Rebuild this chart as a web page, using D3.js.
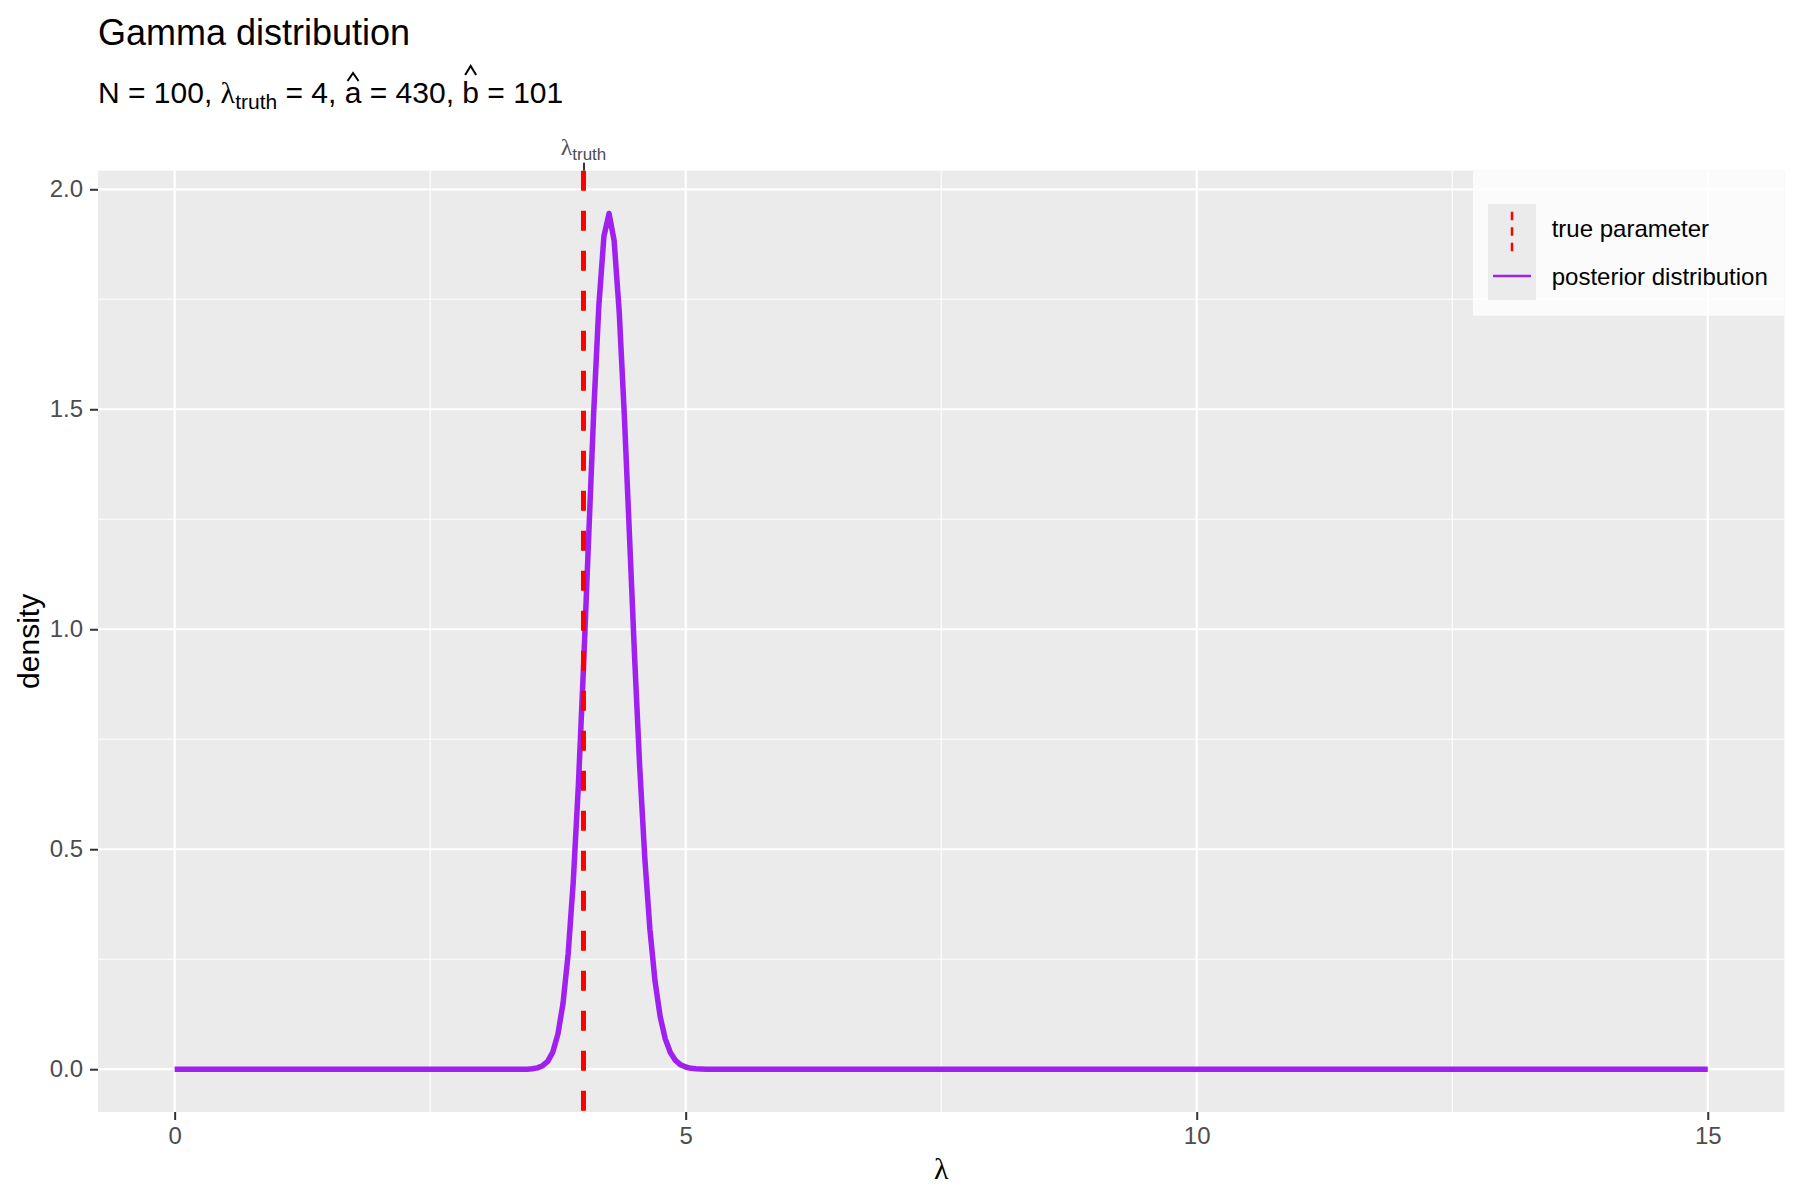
<!DOCTYPE html>
<html>
<head>
<meta charset="utf-8">
<script src="https://cdn.jsdelivr.net/npm/d3@7"></script>
<style>
  body { margin: 0; background: #fff; }
  text { font-family: "Liberation Sans", Arial, sans-serif; white-space: pre; }
  .greek { font-family: "Liberation Serif", "Times New Roman", serif; }
</style>
</head>
<body>
<div id="chart"></div>
<script>
// values
var lambdaGrid = [0, 3.3, 3.4, 3.45, 3.5, 3.55, 3.6, 3.65, 3.7, 3.75, 3.8, 3.85, 3.9, 3.95,
  4.0, 4.05, 4.1, 4.15, 4.2, 4.25, 4.3, 4.35, 4.4, 4.45, 4.5, 4.55, 4.6, 4.65, 4.7,
  4.75, 4.8, 4.85, 4.9, 4.95, 5.0, 5.05, 5.1, 5.2, 15];
var posteriorDensity = [0, 0, 0, 0, 0.001, 0.003, 0.008, 0.018, 0.039, 0.080, 0.150, 0.262, 0.426, 0.645,
  0.912, 1.205, 1.493, 1.734, 1.893, 1.945, 1.883, 1.720, 1.485, 1.213, 0.938, 0.688, 0.480, 0.318, 0.200,
  0.120, 0.069, 0.038, 0.020, 0.010, 0.005, 0.002, 0.001, 0, 0];
var lambdaTruth = 4;
var xTicks = [0, 5, 10, 15];
var xMinorTicks = [2.5, 7.5, 12.5];
var yTicks = [0, 0.5, 1, 1.5, 2];
var yMinorTicks = [0.25, 0.75, 1.25, 1.75];
var legendLabels = ['true parameter', 'posterior distribution'];

var width = 1800, height = 1200;
var margin = {top: 170.7, right: 15.6, bottom: 88, left: 98};
var panelW = width - margin.left - margin.right,
    panelH = height - margin.top - margin.bottom;

var svg = d3.select('#chart').append('svg')
  .attr('width', width)
  .attr('height', height);

// ggplot style 5% expansion
var xExt = d3.extent(lambdaGrid.concat([lambdaTruth]));
var xPad = (xExt[1] - xExt[0]) * 0.05;
var yMax = d3.max(posteriorDensity);
var yPad = yMax * 0.05;

var x = d3.scaleLinear()
  .domain([xExt[0] - xPad, xExt[1] + xPad])
  .range([margin.left, margin.left + panelW]);
var y = d3.scaleLinear()
  .domain([0 - yPad, yMax + yPad])
  .range([margin.top + panelH, margin.top]);

// writes a plotmath-like run of pieces, returns end x
function mathLine(g, x0, y0, pieces) {
  var cx = x0;
  pieces.forEach(function(p) {
    var t = g.append('text')
      .attr('x', cx)
      .attr('y', y0 + (p.dy || 0))
      .style('font-size', p.size + 'px')
      .attr('fill', p.fill || '#000')
      .text(p.text);
    if (p.greek) t.attr('class', 'greek');
    var w = t.node().getComputedTextLength();
    if (p.hat) {
      var hx = cx + w / 2;
      g.append('path')
        .attr('d', 'M' + (hx - 5.5) + ',' + (y0 + p.hat[1]) + 'L' + hx + ',' + (y0 + p.hat[0]) + 'L' + (hx + 5.5) + ',' + (y0 + p.hat[1]))
        .attr('fill', 'none')
        .attr('stroke', '#000')
        .attr('stroke-width', 2);
    }
    cx += w;
  });
  return cx;
}

// title + subtitle
svg.append('text')
  .attr('x', margin.left)
  .attr('y', 45)
  .style('font-size', '36px')
  .text('Gamma distribution');

mathLine(svg.append('g'), margin.left, 103, [
  {text: 'N = 100, ', size: 30},
  {text: 'λ', size: 30, greek: true},
  {text: 'truth', size: 21, dy: 6},
  {text: ' = 4, ', size: 30},
  {text: 'a', size: 30, hat: [-30, -22]},
  {text: ' = 430, ', size: 30},
  {text: 'b', size: 30, hat: [-37, -28]},
  {text: ' = 101', size: 30}
]);

// panel
svg.append('rect')
  .attr('x', margin.left)
  .attr('y', margin.top)
  .attr('width', panelW)
  .attr('height', panelH)
  .attr('fill', '#EBEBEB');

var grid = svg.append('g');
grid.selectAll('.xminor').data(xMinorTicks).enter().append('line')
  .attr('x1', function(d) { return x(d); }).attr('x2', function(d) { return x(d); })
  .attr('y1', margin.top).attr('y2', margin.top + panelH)
  .attr('stroke', '#fff').attr('stroke-width', 1.1);
grid.selectAll('.yminor').data(yMinorTicks).enter().append('line')
  .attr('y1', function(d) { return y(d); }).attr('y2', function(d) { return y(d); })
  .attr('x1', margin.left).attr('x2', margin.left + panelW)
  .attr('stroke', '#fff').attr('stroke-width', 1.1);
grid.selectAll('.xmajor').data(xTicks).enter().append('line')
  .attr('x1', function(d) { return x(d); }).attr('x2', function(d) { return x(d); })
  .attr('y1', margin.top).attr('y2', margin.top + panelH)
  .attr('stroke', '#fff').attr('stroke-width', 2.2);
grid.selectAll('.ymajor').data(yTicks).enter().append('line')
  .attr('y1', function(d) { return y(d); }).attr('y2', function(d) { return y(d); })
  .attr('x1', margin.left).attr('x2', margin.left + panelW)
  .attr('stroke', '#fff').attr('stroke-width', 2.2);

// posterior curve
var line = d3.line()
  .x(function(d, i) { return x(lambdaGrid[i]); })
  .y(function(d) { return y(d); });

svg.append('path')
  .datum(posteriorDensity)
  .attr('d', line)
  .attr('fill', 'none')
  .attr('stroke', '#A020F0')
  .attr('stroke-width', 5.5)
  .attr('stroke-linejoin', 'round');

// true parameter
svg.append('line')
  .attr('x1', x(lambdaTruth)).attr('x2', x(lambdaTruth))
  .attr('y1', margin.top).attr('y2', margin.top + panelH)
  .attr('stroke', '#FF0000')
  .attr('stroke-width', 5)
  .attr('stroke-dasharray', '20,20');

// axes
function styleAxis(g) {
  g.select('.domain').remove();
  g.selectAll('.tick line').attr('stroke', '#333333').attr('stroke-width', 2);
  g.selectAll('.tick text')
    .attr('fill', '#4D4D4D')
    .style('font-size', '24px')
    .style('font-family', '"Liberation Sans", Arial, sans-serif');
}

svg.append('g')
  .attr('transform', 'translate(0,' + (margin.top + panelH) + ')')
  .call(d3.axisBottom(x).tickValues(xTicks).tickSize(8).tickPadding(7).tickFormat(d3.format('d')))
  .call(styleAxis);

svg.append('g')
  .attr('transform', 'translate(' + margin.left + ',0)')
  .call(d3.axisLeft(y).tickValues(yTicks).tickSize(8).tickPadding(7).tickFormat(d3.format('.1f')))
  .call(styleAxis);

// secondary top axis with the truth label
svg.append('g')
  .attr('transform', 'translate(0,' + margin.top + ')')
  .call(d3.axisTop(x).tickValues([lambdaTruth]).tickSize(8).tickFormat(''))
  .call(styleAxis);

var topLabel = svg.append('g');
var labelEnd = mathLine(topLabel, 0, 154.5, [
  {text: 'λ', size: 24, greek: true, fill: '#4D4D4D'},
  {text: 'truth', size: 17, dy: 5, fill: '#4D4D4D'}
]);
topLabel.attr('transform', 'translate(' + (x(lambdaTruth) - labelEnd / 2) + ',0)');

// axis titles
svg.append('text')
  .attr('class', 'greek')
  .attr('x', margin.left + panelW / 2)
  .attr('y', 1179)
  .attr('text-anchor', 'middle')
  .style('font-size', '30px')
  .text('λ');

svg.append('text')
  .attr('transform', 'translate(39.3,' + (margin.top + panelH / 2) + ') rotate(-90)')
  .attr('text-anchor', 'middle')
  .style('font-size', '30px')
  .text('density');

// legend inside top-right corner
var legW = 311.4, legH = 145;
var legend = svg.append('g')
  .attr('transform', 'translate(' + (margin.left + panelW - legW) + ',' + margin.top + ')');

legend.append('rect')
  .attr('width', legW)
  .attr('height', legH)
  .attr('fill', 'rgba(255,255,255,0.8)');

var keySize = 48, keyX = 15, keyY = 33.3;
var keys = legend.selectAll('.key')
  .data(legendLabels)
  .enter().append('g')
  .attr('transform', function(d, i) { return 'translate(' + keyX + ',' + (keyY + i * keySize) + ')'; });

keys.append('rect')
  .attr('width', keySize)
  .attr('height', keySize)
  .attr('fill', '#EBEBEB');

keys.filter(function(d, i) { return i == 0; }).append('line')
  .attr('x1', keySize / 2).attr('x2', keySize / 2)
  .attr('y1', 7.7).attr('y2', keySize)
  .attr('stroke', '#FF0000')
  .attr('stroke-width', 2.5)
  .attr('stroke-dasharray', '8.5,7');

keys.filter(function(d, i) { return i == 1; }).append('line')
  .attr('x1', 5).attr('x2', keySize - 5)
  .attr('y1', keySize / 2).attr('y2', keySize / 2)
  .attr('stroke', '#A020F0')
  .attr('stroke-width', 2.5);

keys.append('text')
  .attr('x', keySize + 15.7)
  .attr('y', keySize / 2 + 8.8)
  .style('font-size', '24px')
  .text(function(d) { return d; });
</script>
</body>
</html>
